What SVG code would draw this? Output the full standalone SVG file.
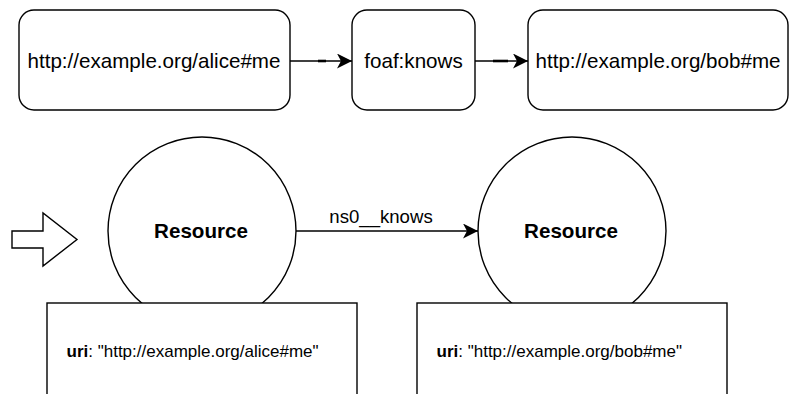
<svg xmlns="http://www.w3.org/2000/svg" width="790" height="394" viewBox="0 0 790 394">
  <defs>
    <style>
      .box { fill: #ffffff; stroke: #000000; stroke-width: 1.4; }
      .edge { fill: none; stroke: #000000; stroke-width: 1.4; }
      .thick { fill: none; stroke: #000000; stroke-width: 2.6; }
      .t { font-family: "Liberation Sans", Arial, Helvetica, sans-serif; fill: #000000; }
      .big { font-size: 20.6px; }
      .bold { font-weight: bold; }
      .small { font-size: 17px; }
      .lbl { font-size: 18.6px; }
    </style>
    <marker id="arrow" viewBox="0 0 15 15" refX="15" refY="7.5" markerWidth="15" markerHeight="15" markerUnits="userSpaceOnUse" orient="auto">
      <path d="M0,0 L15,7.5 L0,15 L4,7.5 Z" fill="#000000"/>
    </marker>
  </defs>

  <!-- connectors -->
  <g id="connectors">
    <path class="edge" d="M290,61 L352,61" marker-end="url(#arrow)"/>
    <path class="thick" d="M318,61 L326,61"/>
    <path class="edge" d="M475,61 L528,61" marker-end="url(#arrow)"/>
    <path class="thick" d="M493,61 L508,61"/>
    <path class="edge" d="M296,231 L478,231" marker-end="url(#arrow)"/>
    <text class="t lbl" x="381" y="223" text-anchor="middle">ns0__knows</text>
  </g>

  <!-- triple row -->
  <g id="subject">
    <rect class="box" x="19" y="10" width="271" height="100" rx="15" ry="15"/>
    <text class="t big" x="154" y="68" text-anchor="middle">http://example.org/alice#me</text>
  </g>
  <g id="predicate">
    <rect class="box" x="352" y="10" width="123" height="100" rx="15" ry="15"/>
    <text class="t big" x="413.5" y="68" text-anchor="middle">foaf:knows</text>
  </g>
  <g id="object">
    <rect class="box" x="528" y="10" width="260" height="100" rx="15" ry="15"/>
    <text class="t big" x="658" y="68" text-anchor="middle">http://example.org/bob#me</text>
  </g>

  <!-- transform arrow -->
  <g id="transform">
    <polygon class="box" points="12,231 43,231 43,213 77,239.5 43,266 43,248 12,248"/>
  </g>

  <!-- graph nodes -->
  <g id="alice">
    <circle class="box" cx="202" cy="231" r="94"/>
    <text class="t big bold" x="201" y="238" text-anchor="middle">Resource</text>
    <rect class="box" x="47" y="303" width="310" height="100"/>
    <text class="t small" x="66.5" y="357"><tspan class="bold">uri</tspan>: "http://example.org/alice#me"</text>
  </g>
  <g id="bob">
    <circle class="box" cx="572" cy="231" r="94"/>
    <text class="t big bold" x="571" y="238" text-anchor="middle">Resource</text>
    <rect class="box" x="417" y="303" width="310" height="100"/>
    <text class="t small" x="436.5" y="357"><tspan class="bold">uri</tspan>: "http://example.org/bob#me"</text>
  </g>
</svg>
